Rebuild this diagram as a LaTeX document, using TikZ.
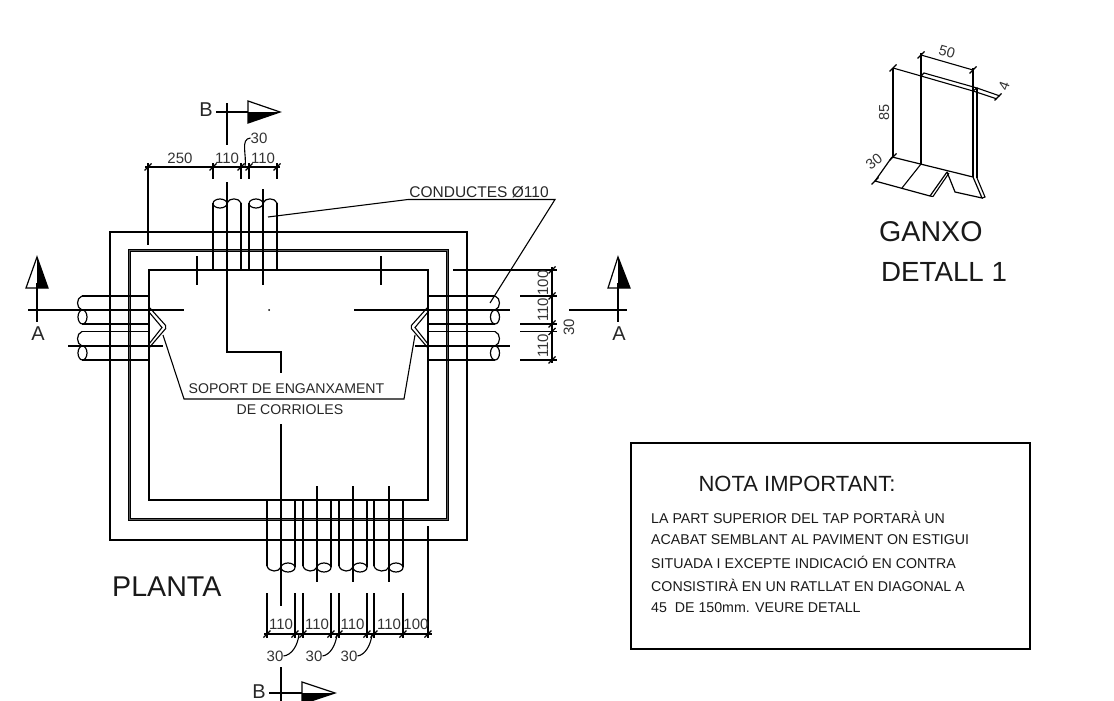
\documentclass[tikz,border=0pt]{standalone}
\usepackage{fontspec}
\setmainfont{Liberation Sans}
\newcommand{\dimtick}[2]{\draw[dimline] (#1-3.5,#2+3.5) -- (#1+3.5,#2-3.5);}
\tikzset{
  wall/.style={line width=1.2pt},
  dimline/.style={line width=1.1pt},
  heavy/.style={line width=1.3pt},
  slab/.style={line width=3.6pt,black!65},
  dimtext/.style={inner sep=0pt,font=\fontsize{15}{17}\selectfont,text=black!80},
  detailtext/.style={inner sep=0pt,font=\fontsize{14.5}{16}\selectfont,text=black!80},
  leadertext/.style={inner sep=0pt,font=\fontsize{14.1}{16}\selectfont,text=black!85},
  notetext/.style={inner sep=0pt,anchor=west,font=\fontsize{14.2}{16}\selectfont,text=black!90},
  bigtext/.style={inner sep=0pt,anchor=west,font=\fontsize{28.6}{32}\selectfont,text=black!90},
  cuttext/.style={inner sep=0pt,font=\fontsize{20}{24}\selectfont,text=black!85},
}
\begin{document}
\begin{tikzpicture}[x=1pt,y=-1pt]
    \useasboundingbox (0,0) rectangle (1114,701);

    % chamber
    \draw[wall] (110,232) rectangle (467,540);
    \draw[slab] (129.5,250.5) rectangle (447.5,519.5);
    \draw[wall] (128.5,249.5) rectangle (448.5,520.5);
    \draw[wall] (130.7,251.7) rectangle (446.3,518.3);
    \draw[wall] (149,270) rectangle (428,500);

    % top ducts
    \draw[wall] (213,203) -- (213,270);
    \draw[wall] (241,203) -- (241,270);
    \draw[wall] (249,203) -- (249,270);
    \draw[wall] (277,203) -- (277,270);
    \draw[wall] (220,203.5) ellipse (7 and 4.5);
    \draw[wall] (227,203) .. controls (229,197.5) and (239,197.5) .. (241,203);
    \draw[wall] (256,203.5) ellipse (7 and 4.5);
    \draw[wall] (263,203) .. controls (265,197.5) and (275,197.5) .. (277,203);

    % left ducts
    \draw[wall] (82,296) -- (149,296);
    \draw[wall] (82,324) -- (149,324);
    \draw[wall] (82,331.5) -- (149,331.5);
    \draw[wall] (82,360) -- (149,360);
    \draw[wall] (82,296) .. controls (76,298) and (76,308) .. (82,310);
    \draw[wall] (82.5,317) ellipse (4.5 and 7);
    \draw[wall] (82,331.5) .. controls (76,333.5) and (76,344) .. (82,346);
    \draw[wall] (82.5,353) ellipse (4.5 and 7);

    % right ducts
    \draw[wall] (428,296) -- (495,296);
    \draw[wall] (428,324) -- (495,324);
    \draw[wall] (428,331.5) -- (495,331.5);
    \draw[wall] (428,360) -- (495,360);
    \draw[wall] (495,296) .. controls (501,298) and (501,308) .. (495,310);
    \draw[wall] (495,317) ellipse (4.5 and 7);
    \draw[wall] (495,331.5) .. controls (501,333.5) and (501,344) .. (495,346);
    \draw[wall] (495,353) ellipse (4.5 and 7);

    % bottom ducts
    \draw[wall] (267,501) -- (267,566);
    \draw[wall] (295,501) -- (295,567);
    \draw[wall] (303,501) -- (303,566);
    \draw[wall] (331,501) -- (331,567);
    \draw[wall] (339,501) -- (339,566);
    \draw[wall] (367,501) -- (367,567);
    \draw[wall] (374,501) -- (374,566);
    \draw[wall] (403,501) -- (403,567);
    \draw[wall] (267,566) .. controls (269,572.5) and (279,572.5) .. (281,567);
    \draw[wall] (288,567.5) ellipse (7 and 4.5);
    \draw[wall] (303,566) .. controls (305,572.5) and (315,572.5) .. (317,567);
    \draw[wall] (324,567.5) ellipse (7 and 4.5);
    \draw[wall] (339,566) .. controls (341,572.5) and (351,572.5) .. (353,567);
    \draw[wall] (360,567.5) ellipse (7 and 4.5);
    \draw[wall] (374,566) .. controls (376,572.5) and (387,572.5) .. (389,567);
    \draw[wall] (396,567.5) ellipse (7 and 4.5);

    % duct axes
    \draw[wall] (227,182) -- (227,352) -- (281,352) -- (281,373);
    \draw[wall] (281,424) -- (281,606);
    \draw[wall] (263,189) -- (263,285);
    \draw[wall] (197,256) -- (197,285);
    \draw[heavy] (381,256) -- (381,285);
    \draw[wall] (68,310) -- (184,310);
    \draw[wall] (68,346) -- (163,346);
    \draw[wall] (354,310) -- (510,310);
    \draw[wall] (415,346) -- (510,346);
    \draw[wall] (317,486) -- (317,582);
    \draw[wall] (353,486) -- (353,582);
    \draw[wall] (389,486) -- (389,582);
    \fill (269,310) circle (1);

    % hooks
    \draw[dimline,rounded corners=2pt] (149,307) -- (167,327) -- (149,348);
    \draw[dimline] (149,312) -- (162,327.5) -- (149,344);
    \draw[dimline,rounded corners=2pt] (428,307) -- (410,327) -- (428,348);
    \draw[dimline] (428,312) -- (415,327.5) -- (428,344);

    % section marks
    \node[cuttext] (cutBtop) at (206,110) {B};
    \draw[wall] (216,112) -- (248,112);
    \draw[wall] (227,103) -- (227,145);
    \draw[wall] (248,101) -- (280,112) -- (248,123) -- cycle;
    \fill (248,112) -- (280,112) -- (248,123) -- cycle;

    \node[cuttext] (cutBbottom) at (259,692) {B};
    \draw[wall] (269,693) -- (302,693);
    \draw[wall] (281,667) -- (281,701);
    \draw[wall] (302,682) -- (335,693) -- (302,704) -- cycle;
    \fill (302,693) -- (335,693) -- (302,704) -- cycle;

    \node[cuttext] (cutAleft) at (38,334) {A};
    \draw[wall] (28,310) -- (68,310);
    \draw[wall] (37,283) -- (37,322);
    \draw[wall] (37,257) -- (48,288) -- (26,288) -- cycle;
    \fill (37,257) -- (48,288) -- (37,288) -- cycle;

    \node[cuttext] (cutAright) at (619,334) {A};
    \draw[wall] (569,310) -- (627,310);
    \draw[wall] (618,283) -- (618,322);
    \draw[wall] (618,257) -- (630,288) -- (608,288) -- cycle;
    \fill (618,257) -- (630,288) -- (618,288) -- cycle;

    % top dimensions
    \draw[dimline] (145,167) -- (280,167);
    \draw[wall] (148,163) -- (148,245);
    \draw[dimline] (213,163) -- (213,179);
    \draw[dimline] (241,163) -- (241,179);
    \draw[dimline] (249,163) -- (249,179);
    \draw[dimline] (277,163) -- (277,179);
    \dimtick{148}{167}
    \dimtick{213}{167}
    \dimtick{241}{167}
    \dimtick{249}{167}
    \dimtick{277}{167}
    \node[dimtext] (dimTa) at (180,158) {250};
    \node[dimtext] (dimTb) at (227,158) {110};
    \node[dimtext] (dimTc) at (263,158) {110};
    \node[dimtext] (dimTd) at (259,138) {30};
    \draw[dimline] (dimTd.west) .. controls (240,139) and (247,155) .. (245,167);

    % right dimensions
    \draw[dimline] (552,267) -- (552,363);
    \draw[wall] (453,270) -- (557,270);
    \draw[wall] (520,296) -- (557,296);
    \draw[wall] (520,324) -- (557,324);
    \draw[wall] (520,331.5) -- (557,331.5);
    \draw[wall] (520,360) -- (557,360);
    \dimtick{552}{270}
    \dimtick{552}{296}
    \dimtick{552}{324}
    \dimtick{552}{331.5}
    \dimtick{552}{360}
    \node[dimtext,rotate=90] (dimRa) at (543,283) {100};
    \node[dimtext,rotate=90] (dimRb) at (543,310) {110};
    \node[dimtext,rotate=90] (dimRc) at (543,346) {110};
    \node[dimtext,rotate=90] (dimRd) at (569,327) {30};

    % bottom dimensions
    \draw[dimline] (264,634) -- (432,634);
    \draw[dimline] (267,593) -- (267,638);
    \draw[dimline] (295,593) -- (295,638);
    \draw[dimline] (303,593) -- (303,638);
    \draw[dimline] (331,593) -- (331,638);
    \draw[dimline] (339,593) -- (339,638);
    \draw[dimline] (367,593) -- (367,638);
    \draw[dimline] (374,593) -- (374,638);
    \draw[dimline] (403,593) -- (403,638);
    \draw[wall] (428,526) -- (428,638);
    \dimtick{267}{634}
    \dimtick{295}{634}
    \dimtick{303}{634}
    \dimtick{331}{634}
    \dimtick{339}{634}
    \dimtick{367}{634}
    \dimtick{374}{634}
    \dimtick{403}{634}
    \dimtick{428}{634}
    \node[dimtext] (dimBa) at (281,624) {110};
    \node[dimtext] (dimBb) at (317,624) {110};
    \node[dimtext] (dimBc) at (352.5,624) {110};
    \node[dimtext] (dimBd) at (389,624) {110};
    \node[dimtext] (dimBe) at (416,624) {100};
    \node[dimtext] (dimBf) at (275,656) {30};
    \node[dimtext] (dimBg) at (314,656) {30};
    \node[dimtext] (dimBh) at (349,656) {30};
    \draw[dimline] (dimBf.east) .. controls (292,655) and (298,645) .. (299,634);
    \draw[dimline] (dimBg.east) .. controls (330,655) and (336,645) .. (337,634);
    \draw[dimline] (dimBh.east) .. controls (365,655) and (371,645) .. (372,634);

    % leaders
    \node[leadertext,font=\fontsize{15.5}{18}\selectfont] (conductes) at (479,192) {CONDUCTES Ø110};
    \draw[dimline] (268,217) -- (408,199.5) -- (555,199.5) -- (490,303);
    \node[leadertext] (soport) at (286.5,389) {SOPORT DE ENGANXAMENT};
    \node[leadertext] (corrioles) at (290,410) {DE CORRIOLES};
    \draw[dimline] (163,335) -- (184,399) -- (404,399) -- (415,335);

    % titles
    \node[bigtext] (planta) at (112,587) {PLANTA};
    \node[bigtext] (ganxo) at (879,232) {GANXO};
    \node[bigtext,font=\fontsize{27.7}{32}\selectfont] (detall) at (881,272) {DETALL 1};

    % note
    \draw[heavy] (631,443) rectangle (1030,649);
    \node[inner sep=0pt,font=\fontsize{22}{26}\selectfont,text=black!90] (nota) at (797,484) {NOTA IMPORTANT:};
    \node[notetext] (notaA) at (651,517) {LA PART SUPERIOR DEL TAP PORTARÀ UN};
    \node[notetext] (notaB) at (651,540) {ACABAT SEMBLANT AL PAVIMENT ON ESTIGUI};
    \node[notetext] (notaC) at (651,562) {SITUADA I EXCEPTE INDICACIÓ EN CONTRA};
    \node[notetext] (notaD) at (651,585) {CONSISTIRÀ EN UN RATLLAT EN DIAGONAL A};
    \node[notetext] (notaE) at (651,608) {45\ \ DE 150mm. VEURE DETALL};

    % hook detail
    \draw[dimline] (921,76) -- (924,73) -- (977,88) -- (973,91) -- cycle;
    \draw[wall] (921,53) -- (921,164);
    \draw[wall] (973,68) -- (973,177);
    \draw[dimline] (977,88) -- (977,178);
    \draw[wall] (892,157) -- (973,177) -- (982,198) -- (955,192) -- (947,172);
    \draw[dimline] (977,178) -- (985,197) -- (982,198);
    \draw[wall] (892,157) -- (875,181) -- (930,196) -- (947,172);
    \draw[dimline] (933,196.5) -- (949,173);
    \draw[dimline] (930,196) -- (933,196.5);
    \draw[dimline] (921,164) -- (902,188);
    \draw[heavy] (893,68) -- (893,157);
    \draw[dimline] (893,68) -- (921,76);
    \draw[dimline] (921,55) -- (973,70);
    \draw[dimline] (977,88) -- (1000,96);
    \draw[dimline] (973,91) -- (997,99);
    \dimtick{893}{68}
    \dimtick{893}{157}
    \dimtick{921}{55}
    \dimtick{973}{70}
    \dimtick{998}{97}
    \dimtick{875}{181}
    \node[detailtext,rotate=90] (dimDa) at (884,112) {85};
    \node[detailtext,rotate=-16] (dimDb) at (947,52) {50};
    \node[detailtext,rotate=70] (dimDc) at (1004,86) {4};
    \node[detailtext,rotate=38] (dimDd) at (874,162) {30};
  \end{tikzpicture}
\end{document}
